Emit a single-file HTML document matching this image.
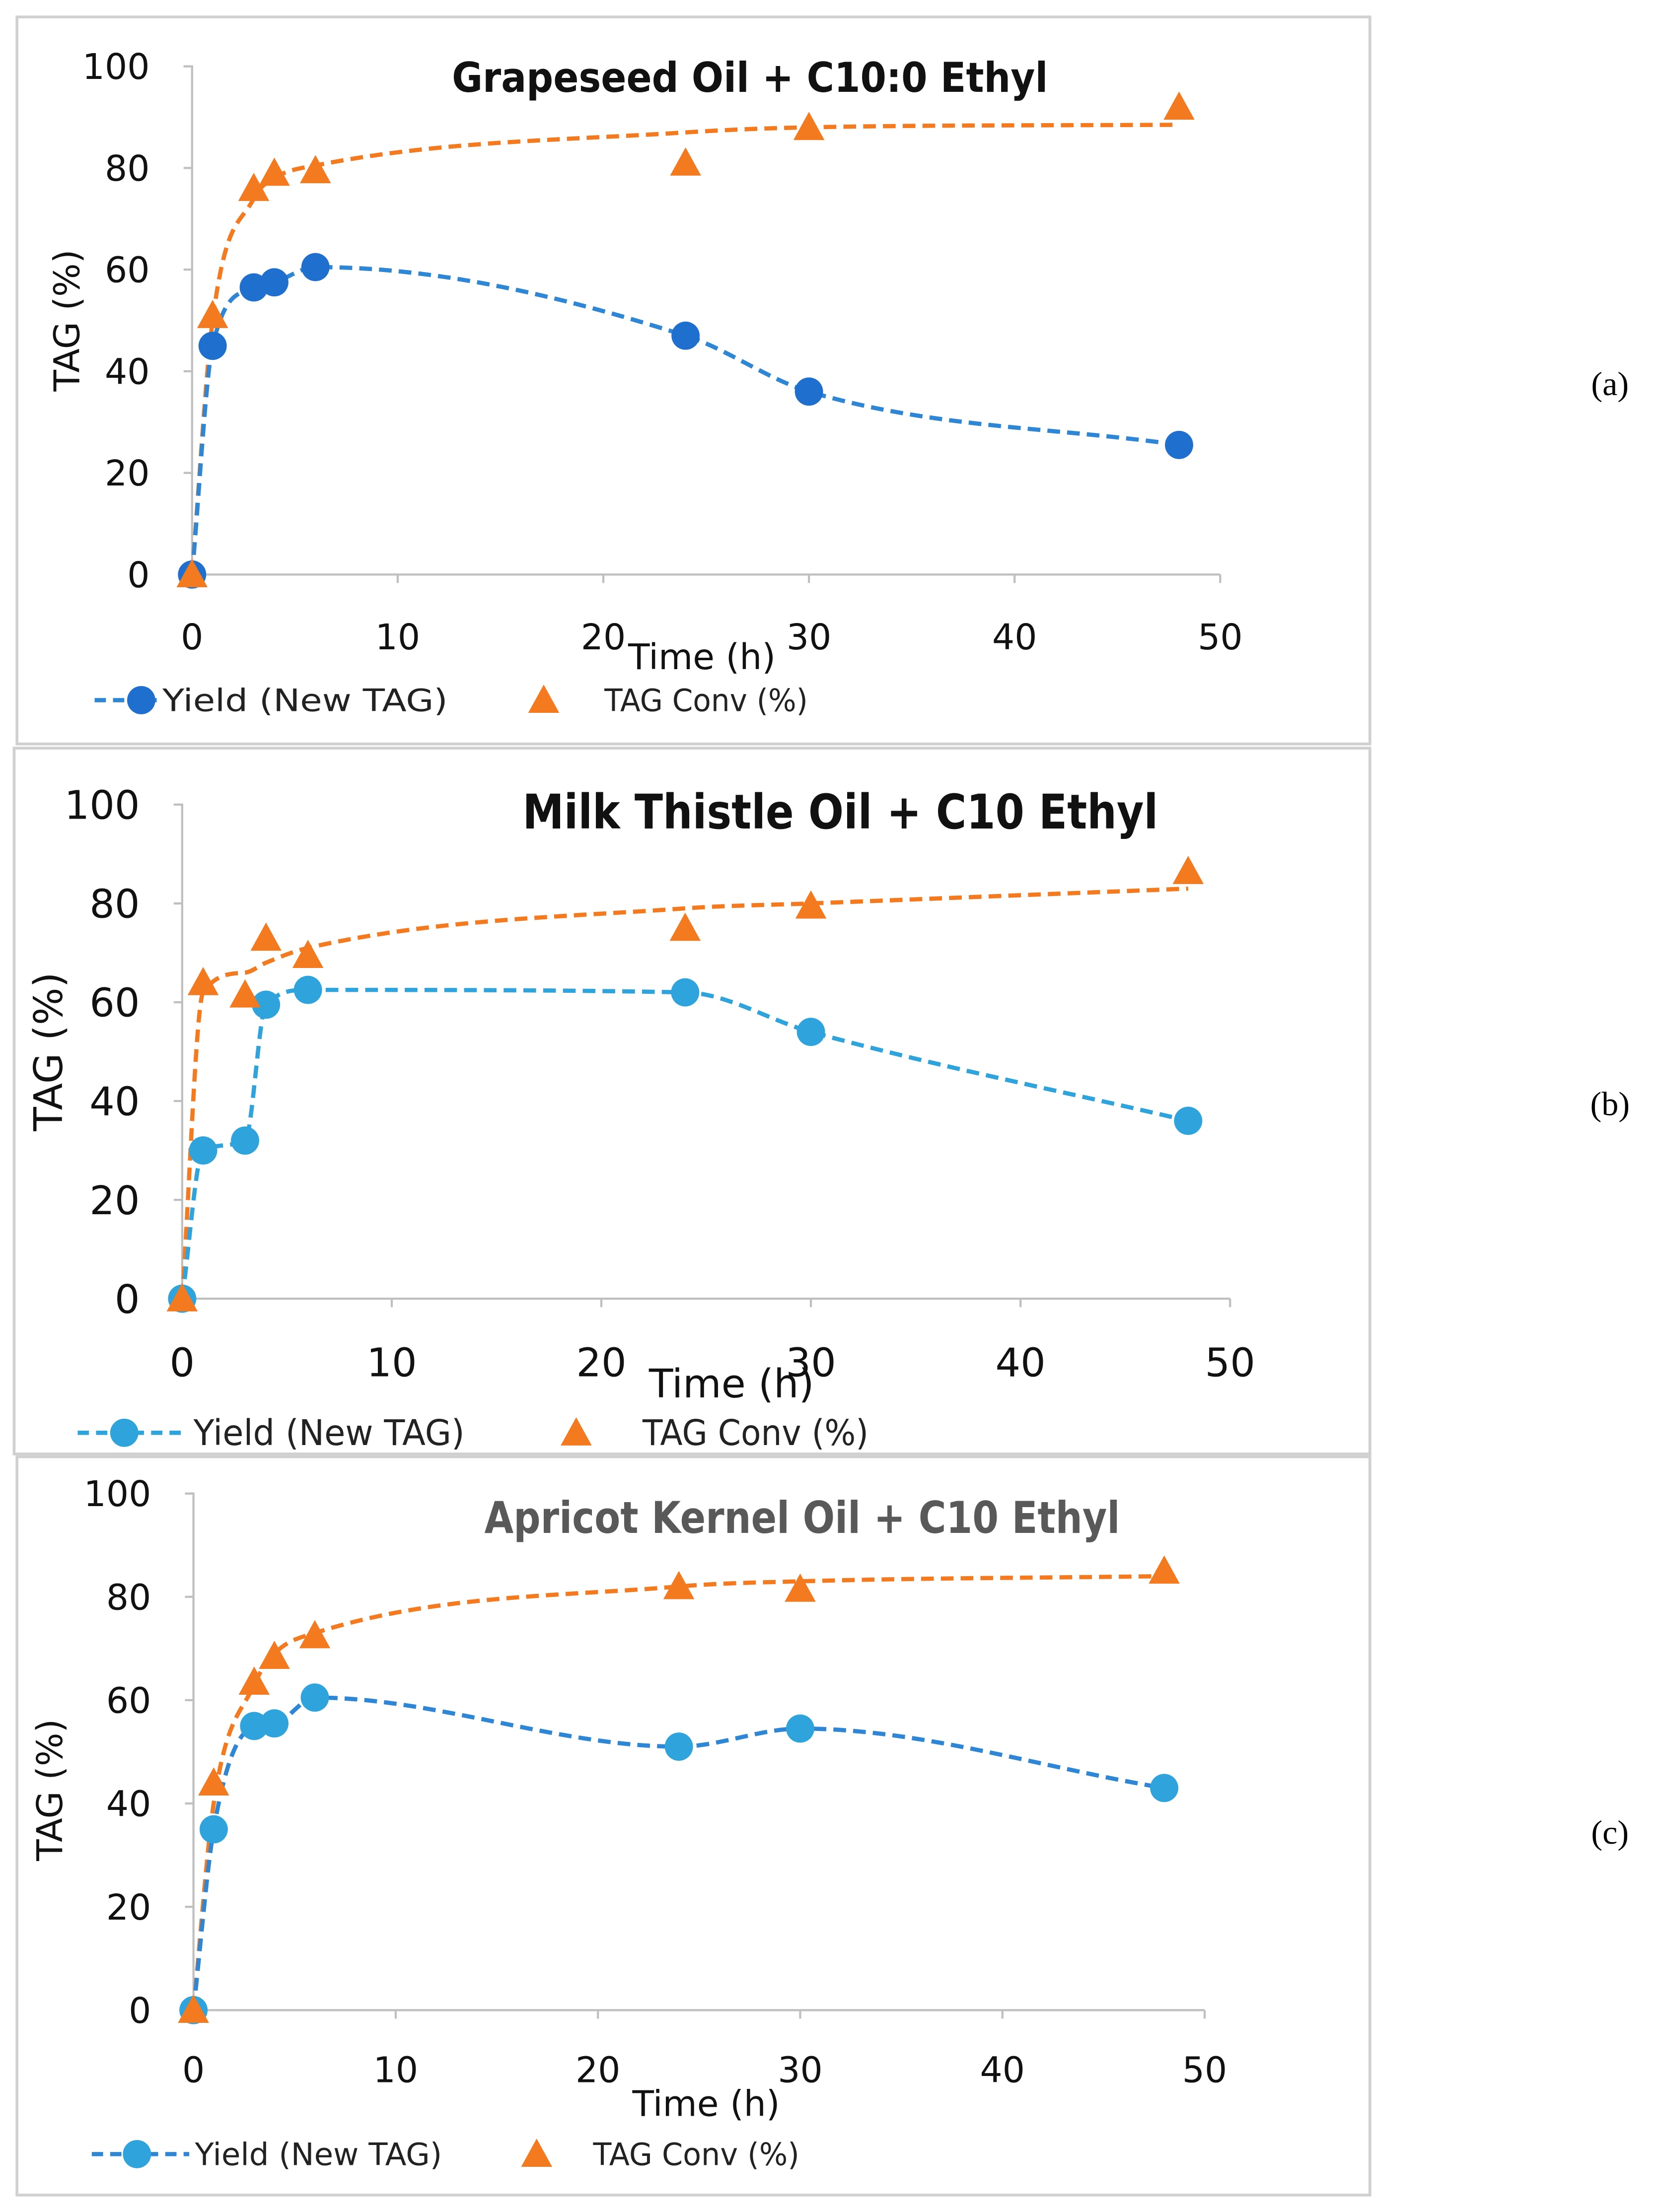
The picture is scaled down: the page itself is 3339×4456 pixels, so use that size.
<!DOCTYPE html>
<html><head><meta charset="utf-8"><style>
html,body{margin:0;padding:0;background:#fff}
svg{display:block}
text{font-family:"DejaVu Sans","Liberation Sans",sans-serif}
</style></head><body>
<svg id="chart" width="3339" height="4456" viewBox="0 0 1174 1567" preserveAspectRatio="none" xmlns="http://www.w3.org/2000/svg"></svg>
<script>
const timeH = [0,1,3,4,6,24,30,48];
const yieldA = [0,45,56.5,57.5,60.5,47,36,25.5];
const convA = [0,51,76,79,79.5,81,88,92];
const trendA = [0,50,74,78,80.5,87,88,88.5];
const yieldB = [0,30,32,59.5,62.5,62,54,36];
const convB = [0,64,61.5,73,69.5,75,79.5,86.5];
const trendB = [0,62,66,68,71,79,80,83];
const yieldC = [0,35,55,55.5,60.5,51,54.5,43];
const convC = [0,44,63.5,68.5,72.5,82,81.5,85];
const trendC = [0,40,63,69,73,82,83,84];
const xTicks = [0,10,20,30,40,50];
const yTicks = [0,20,40,60,80,100];

const NS="http://www.w3.org/2000/svg";
const svg=document.getElementById('chart');
function mk(tag,attrs,parent){const e=document.createElementNS(NS,tag);for(const k in attrs)e.setAttribute(k,attrs[k]);(parent||svg).appendChild(e);return e;}
function mono(pts){
 const n=pts.length,d=[],m=[];
 for(let i=0;i<n-1;i++)d.push((pts[i+1][1]-pts[i][1])/(pts[i+1][0]-pts[i][0]));
 m[0]=d[0];m[n-1]=d[n-2];
 for(let i=1;i<n-1;i++)m[i]=(d[i-1]*d[i]<=0)?0:(d[i-1]+d[i])/2;
 for(let i=0;i<n-1;i++){if(d[i]===0){m[i]=0;m[i+1]=0;continue;}const a=m[i]/d[i],b=m[i+1]/d[i],s=a*a+b*b;if(s>9){const t=3/Math.sqrt(s);m[i]=t*a*d[i];m[i+1]=t*b*d[i];}}
 let p=`M${pts[0][0]},${pts[0][1]}`;
 for(let i=0;i<n-1;i++){const h=(pts[i+1][0]-pts[i][0])/3;p+=` C${pts[i][0]+h},${pts[i][1]+m[i]*h} ${pts[i+1][0]-h},${pts[i+1][1]-m[i+1]*h} ${pts[i+1][0]},${pts[i+1][1]}`;}
 return p;}

const panels=[
 {id:'a',frame:[12,12,958,515],x0:136,x1:864,y0:407,y1:47,yv:yieldA,cv:convA,tv:trendA,title:'Grapeseed Oil + C10:0 Ethyl',tx:320,tw:422,ty:65,tfs:29,tcol:'#111',fs:25,blue:'#1f6fcf',line:'#2e86d4',lab:[1140,272],xtb:460,xt:[497,474],yl:[56,227],legY:496,leg:[67,100,115,202,385,428,144],legFs:22},
 {id:'b',frame:[10,530,960,500],x0:129,x1:871,y0:920,y1:570,yv:yieldB,cv:convB,tv:trendB,title:'Milk Thistle Oil + C10 Ethyl',tx:370,tw:450,ty:587,tfs:34,tcol:'#111',fs:28,blue:'#2ea3dc',line:'#2ea3dc',lab:[1140,782],xtb:975,xt:[518,990],yl:[44,745],legY:1015,leg:[55,88,137,192,408,455,160],legFs:25},
 {id:'c',frame:[12,1032,958,523],x0:137,x1:853,y0:1424,y1:1058,yv:yieldC,cv:convC,tv:trendC,title:'Apricot Kernel Oil + C10 Ethyl',tx:343,tw:450,ty:1086,tfs:31,tcol:'#595959',fs:25,blue:'#2ea3dc',line:'#2e86d4',lab:[1140,1298],xtb:1475,xt:[500,1499],yl:[44,1268],legY:1526,leg:[65,97,138,175,380,420,146],legFs:22}
];
panels.forEach(p=>{
 const g=mk('g',{});
 
 
 const fr=mk('rect',{x:p.frame[0],y:p.frame[1],width:p.frame[2],height:p.frame[3],fill:'#fff',stroke:'#d0d0d0','stroke-width':2},g);
 
 
 const X=v=>p.x0+(p.x1-p.x0)*v/50, Y=v=>p.y0+(p.y1-p.y0)*v/100;
 const ax=mk('path',{d:`M${p.x0-6},${p.y1}H${p.x0}V${p.y0}H${p.x1}`,fill:'none',stroke:'#bfbfbf','stroke-width':1.5},g);
 
 
 yTicks.forEach(t=>{mk('line',{x1:p.x0-6,x2:p.x0,y1:Y(t),y2:Y(t),stroke:'#bfbfbf','stroke-width':1.5},g);
  const tx=mk('text',{x:p.x0-30,y:Y(t)+p.fs*0.36,'font-size':p.fs,'text-anchor':'end',fill:'#111'},g);tx.textContent=t;
  
  });
 xTicks.forEach(t=>{mk('line',{x1:X(t),x2:X(t),y1:p.y0,y2:p.y0+6,stroke:'#bfbfbf','stroke-width':1.5},g);
  const tx=mk('text',{x:X(t),y:p.xtb,'font-size':p.fs,'text-anchor':'middle',fill:'#111'},g);tx.textContent=t;
  
  });
 const xt=mk('text',{x:p.xt[0],y:p.xt[1],'font-size':p.fs,'text-anchor':'middle',fill:'#111'},g);xt.textContent='Time (h)';
 
 
 const yl=mk('text',{x:p.yl[0],y:p.yl[1],'font-size':p.fs,'text-anchor':'middle',fill:'#111',transform:`rotate(-90 ${p.yl[0]} ${p.yl[1]})`},g);yl.textContent='TAG (%)';
 
 
 const ti=mk('text',{x:p.tx,y:p.ty,'font-size':p.tfs,'font-weight':'bold',fill:p.tcol,textLength:p.tw,lengthAdjust:'spacingAndGlyphs'},g);ti.textContent=p.title;
 
 
 const tr=mk('path',{d:mono(timeH.map((t,i)=>[X(t),Y(p.tv[i])])),fill:'none',stroke:'#f47a20','stroke-width':3,'stroke-dasharray':'9 5'},g);
 
 
 const yln=mk('path',{d:mono(timeH.map((t,i)=>[X(t),Y(p.yv[i])])),fill:'none',stroke:p.line,'stroke-width':3,'stroke-dasharray':'9 5'},g);
 
 
 timeH.forEach((t,i)=>{const c=mk('circle',{cx:X(t),cy:Y(p.yv[i]),r:10,fill:p.blue},g);
  
  });
 timeH.forEach((t,i)=>{const x=X(t),y=Y(p.cv[i]);const tg=mk('path',{d:`M${x},${y-11}L${x+11},${y+9}L${x-11},${y+9}Z`,fill:'#f47a20'},g);
  
  });
 const L=p.leg,ly=p.legY;
 const l1=mk('g',{},g);
 
 
 mk('line',{x1:L[0],x2:L[2]-4,y1:ly,y2:ly,stroke:p.line,'stroke-width':3,'stroke-dasharray':'8 5'},l1);
 mk('circle',{cx:L[1],cy:ly,r:10,fill:p.blue},l1);
 const t1=mk('text',{x:L[2],y:ly+p.legFs*0.35,'font-size':p.legFs,fill:'#222',textLength:L[3],lengthAdjust:'spacingAndGlyphs'},l1);t1.textContent='Yield (New TAG)';
 const l2=mk('g',{},g);
 
 
 const tx2=L[4];
 mk('path',{d:`M${tx2},${ly-11}L${tx2+11},${ly+9}L${tx2-11},${ly+9}Z`,fill:'#f47a20'},l2);
 const t2=mk('text',{x:L[5],y:ly+p.legFs*0.35,'font-size':p.legFs,fill:'#222',textLength:L[6],lengthAdjust:'spacingAndGlyphs'},l2);t2.textContent='TAG Conv (%)';
 const lb=mk('text',{x:p.lab[0],y:p.lab[1]+8,'font-size':24,'text-anchor':'middle',fill:'#000',style:'font-family:"Liberation Serif",serif'},svg);lb.textContent='('+p.id+')';
 
 
});
</script>
</body></html>
